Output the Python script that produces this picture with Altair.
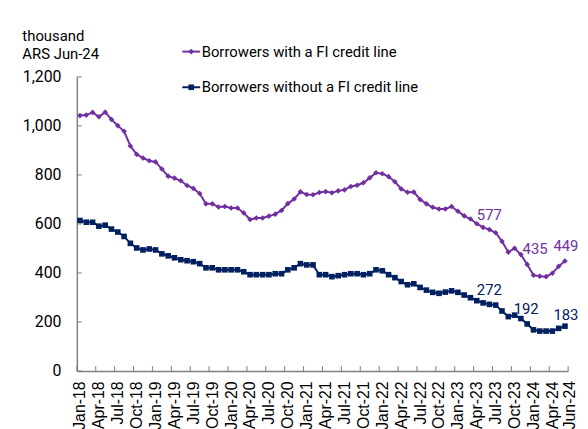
import altair as alt
import pandas as pd

month_names = ["Jan", "Feb", "Mar", "Apr", "May", "Jun",
               "Jul", "Aug", "Sep", "Oct", "Nov", "Dec"]
months = [f"{m}-{y}" for y in range(18, 25) for m in month_names][:78]

with_line = [1042, 1044, 1055, 1037, 1056, 1026, 1001, 978, 918, 884, 869, 858,
             853, 824, 795, 787, 776, 757, 745, 724, 682, 682, 669, 671,
             665, 665, 645, 618, 624, 624, 632, 640, 655, 683, 702, 731,
             720, 719, 728, 732, 727, 735, 739, 753, 758, 768, 788, 809,
             805, 793, 772, 743, 729, 730, 700, 682, 668, 661, 661, 671,
             652, 633, 620, 601, 586, 577, 564, 529, 485, 501, 475, 435,
             391, 387, 385, 399, 427, 449]
without_line = [614, 607, 607, 591, 595, 579, 567, 549, 521, 502, 494, 498,
                494, 478, 470, 462, 454, 450, 446, 438, 421, 421, 413, 413,
                413, 413, 405, 393, 393, 393, 393, 397, 397, 413, 421, 438,
                433, 433, 393, 393, 385, 389, 393, 397, 397, 393, 397, 413,
                409, 393, 381, 365, 352, 356, 341, 330, 321, 317, 322, 327,
                321, 310, 299, 287, 278, 272, 269, 245, 222, 228, 214, 192,
                168, 163, 163, 163, 174, 183]

series_names = ["Borrowers with a FI credit line",
                "Borrowers without a FI credit line"]
colors = ["#7030A0", "#002060"]
shapes = ["diamond", "square"]

tick_labels = ["Jan-18", "Apr-18", "Jul-18", "Oct-18", "Jan-19", "Apr-19", "Jul-19",
               "Oct-19", "Jan-20", "Apr-20", "Jul-20", "Oct-20", "Jan-21", "Apr-21",
               "Jul-21", "Oct-21", "Jan-22", "Apr-22", "Jul-22", "Oct-22", "Jan-23",
               "Apr-23", "Jul-23", "Oct-23", "Jan-24", "Apr-24"]
last_label = ["Jun-24"]
y_ticks = [0, 200, 400, 600, 800, 1000, 1200]

# annotated points: (series index, month)
annotations = [(0, "Jun-23"), (0, "Dec-23"), (0, "Jun-24"),
               (1, "Jun-23"), (1, "Dec-23"), (1, "Jun-24")]
ann_offsets = [(0, -15), (8, -15), (1, -15), (0, -14), (-1, -15), (1, -11)]

W, H = 496, 297
AXIS_GRAY = "#808080"
XLAB_FONT = "Liberation Sans"
XLAB_SIZE = 16

df = pd.DataFrame({
    "month": months * 2,
    "value": with_line + without_line,
    "series": [series_names[0]] * len(months) + [series_names[1]] * len(months),
})

x_scale = alt.Scale(type="point", padding=0.5, domain=months)
y_scale = alt.Scale(domain=[0, 1200], nice=False, zero=True)
color = alt.Color("series:N", scale=alt.Scale(domain=series_names, range=colors), legend=None)
shape = alt.Shape("series:N", scale=alt.Scale(domain=series_names, range=shapes), legend=None)

x_main = alt.X("month:O", sort=months, scale=x_scale,
               axis=alt.Axis(values=tick_labels, labelAngle=-90, ticks=False,
                             labelOverlap=False, domainColor=AXIS_GRAY, domainWidth=1.5,
                             labelFont=XLAB_FONT, labelFontSize=XLAB_SIZE,
                             labelColor="#000000", labelPadding=10, title=None, grid=False))
y_main = alt.Y("value:Q", scale=y_scale,
               axis=alt.Axis(values=y_ticks, format=",.0f", ticks=False, labelPadding=16,
                             labelFont="Roboto", labelFontSize=16, labelColor="#000000",
                             domainColor=AXIS_GRAY, domainWidth=1.5, grid=False,
                             title=["thousand", "ARS Jun-24"], titleAngle=0,
                             titleAlign="left", titleBaseline="alphabetic",
                             titleX=-55.5, titleY=-36.5, titleFont="Roboto",
                             titleFontSize=15, titleFontWeight="normal",
                             titleColor="#000000", titleLineHeight=18))

base = alt.Chart(df)
lines = base.mark_line(strokeWidth=2).encode(x=x_main, y=y_main, color=color,
                                              detail="series:N")
points = base.mark_point(filled=True, opacity=1, size=32).encode(
    x=x_main, y=y_main, color=color, shape=shape)

layers = [lines, points]

for (si, m), (dx, dy) in zip(annotations, ann_offsets):
    sub = df[(df["series"] == series_names[si]) & (df["month"] == m)]
    layers.append(alt.Chart(sub).mark_text(
        dx=dx, dy=dy, font="Roboto", fontSize=15, color=colors[si],
        align="center", baseline="middle").encode(
        x=x_main, y=y_main, text=alt.Text("value:Q", format="d")))

# last x label (Excel shifts it slightly right)
layers.append(alt.Chart(pd.DataFrame({"month": last_label})).mark_text(
    angle=270, align="right", baseline="middle", font=XLAB_FONT, fontSize=XLAB_SIZE,
    color="#000000", xOffset=5).encode(
    x=x_main, y=alt.value(H + 10), text="month:N"))

# inward axis ticks
step = W / len(months)
xt = pd.DataFrame({"month": tick_labels})
layers.append(alt.Chart(xt).mark_rule(color=AXIS_GRAY, strokeWidth=1, xOffset=-step / 2).encode(
    x=x_main, y=alt.value(H), y2=alt.value(H - 5)))
layers.append(alt.Chart(pd.DataFrame({"month": last_label})).mark_rule(
    color=AXIS_GRAY, strokeWidth=1, xOffset=step / 2).encode(
    x=x_main, y=alt.value(H), y2=alt.value(H - 5)))
yt = pd.DataFrame({"value": y_ticks})
layers.append(alt.Chart(yt).mark_rule(color=AXIS_GRAY, strokeWidth=1).encode(
    y=y_main, x=alt.value(0), x2=alt.value(5)))

# legend
leg_rows = [-25.5, 10.5]
for i, name in enumerate(series_names):
    ld = pd.DataFrame({"label": [name]})
    ry = leg_rows[i]
    layers.append(alt.Chart(ld).mark_rule(color=colors[i], strokeWidth=2).encode(
        x=alt.value(106.5), x2=alt.value(124.5), y=alt.value(ry)))
    layers.append(alt.Chart(ld).mark_point(filled=True, opacity=1, size=32,
                                           shape=shapes[i], color=colors[i]).encode(
        x=alt.value(115.5), y=alt.value(ry)))
    layers.append(alt.Chart(ld).mark_text(align="left", baseline="middle", font="Roboto",
                                          fontSize=15, color="#000000").encode(
        x=alt.value(126), y=alt.value(ry), text="label:N"))

chart = alt.layer(*layers).properties(
    width=W, height=H,
    autosize=alt.AutoSizeParams(type="none"),
    padding={"left": 69.5, "top": 67.5, "right": 12, "bottom": 56},
    background="white",
).configure_view(stroke=None)

chart.save("out.html", embed_options={"renderer": "svg", "actions": False})
